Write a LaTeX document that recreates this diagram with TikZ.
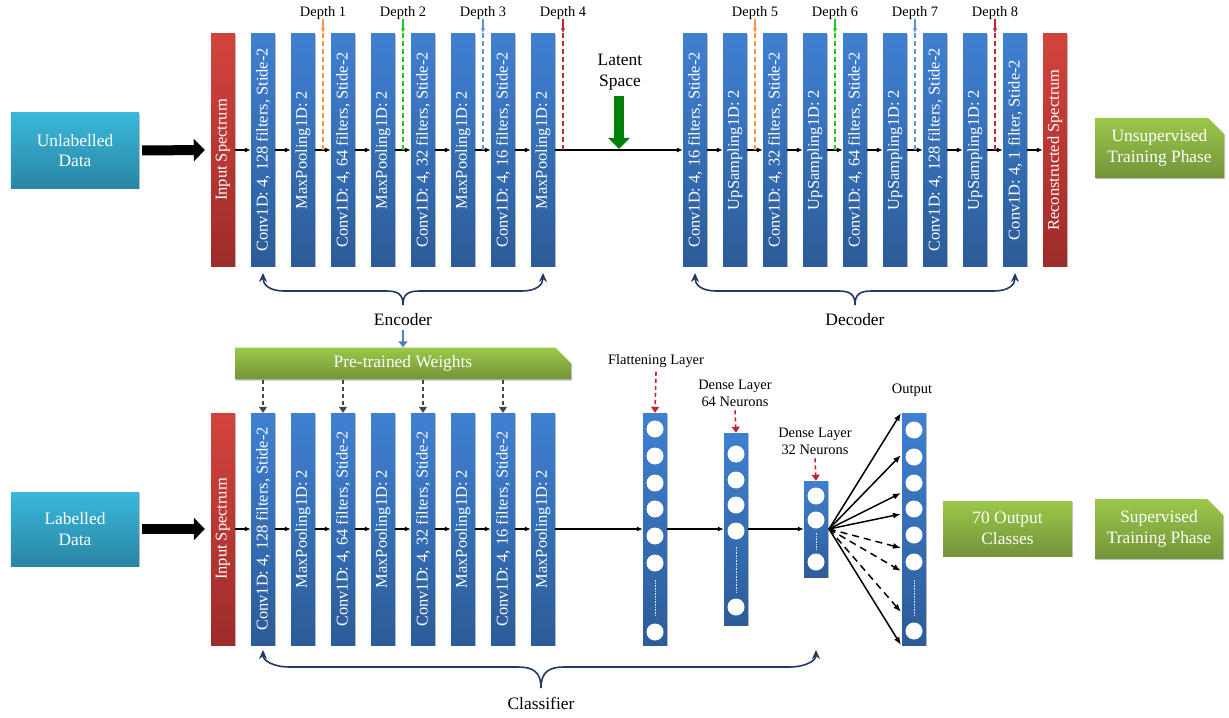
\documentclass[tikz,border=0pt]{standalone}
\usepackage{fontspec}
\setmainfont{Liberation Serif}
\usetikzlibrary{arrows.meta,shapes.misc,shadows}
\definecolor{barTop}{HTML}{3F80D2}
\definecolor{barBot}{HTML}{2C5C98}
\definecolor{redTop}{HTML}{D3433D}
\definecolor{redBot}{HTML}{9E2C2A}
\definecolor{cyTop}{HTML}{39B8DB}
\definecolor{cyBot}{HTML}{2986A3}
\definecolor{grTop}{HTML}{9BC84A}
\definecolor{grBot}{HTML}{74933A}
\definecolor{navy}{HTML}{1F3B63}
\definecolor{dOrange}{HTML}{F79646}
\definecolor{dGreen}{HTML}{22C822}
\definecolor{dBlue}{HTML}{5B93D6}
\definecolor{dRed}{HTML}{C0272D}
\definecolor{olive}{HTML}{4D4633}
\definecolor{latgreen}{HTML}{00800A}
\definecolor{arrblue}{HTML}{4F81BD}
\tikzset{
  shad/.style={drop shadow={shadow xshift=1.2bp, shadow yshift=-1.2bp, fill=black, opacity=0.22}},
  bar/.style={rectangle, inner sep=0, minimum width=24bp, minimum height=232bp, top color=barTop, bottom color=barBot, draw=none, shad},
  rbar/.style={bar, top color=redTop, bottom color=redBot},
  nbar/.style={rectangle, inner sep=0, minimum width=24bp, top color=barTop, bottom color=barBot, draw=none, shad},
  bartxt/.style={rotate=90, text=white, font=\fontsize{16.5}{19}\selectfont, inner sep=0},
  lbl/.style={font=\fontsize{17.5}{20.5}\selectfont, text=black, inner sep=0, align=center},
  sm/.style={font=\fontsize{14.5}{17}\selectfont, text=black, inner sep=0, align=center},
  cybox/.style={rectangle, inner sep=0, minimum width=128bp, top color=cyTop, bottom color=cyBot, text=white, align=center, font=\fontsize{17.5}{21}\selectfont, shad},
  grbox/.style={rectangle, inner sep=0, top color=grTop, bottom color=grBot, text=white, align=center, font=\fontsize{17.5}{21}\selectfont, shad},
  snip/.style={chamfered rectangle, chamfered rectangle corners=north east, chamfered rectangle xsep=8bp, chamfered rectangle ysep=8bp},
  flow/.style={-{Latex[length=6bp,width=5bp]}, line width=1.3bp, black},
  fan/.style={-{Latex[length=8bp,width=6bp]}, line width=1.5bp, black},
  bigarrow/.style={line width=10bp, -{Triangle[width=22bp,length=11bp]}},
  neuron/.style={circle, fill=white, inner sep=0, minimum size=17bp},
  dots/.style={white!80!barTop, line width=0.9bp, dash pattern=on 0.6bp off 1bp},
  brace/.style={navy, line width=1.6bp, -{Stealth[length=9bp,width=8bp]}},
  reddash/.style={dRed, line width=1.6bp, dash pattern=on 4bp off 3bp, -{Triangle[length=6bp,width=8bp]}},
  olivedash/.style={olive, line width=1.6bp, dash pattern=on 4bp off 3bp, -{Triangle[length=6bp,width=8bp]}},
}
\begin{document}
\begin{tikzpicture}[x=1bp,y=-1bp]
\useasboundingbox (0,0) rectangle (1229,718);

% ---------------- top row (autoencoder) ----------------
\node[cybox, minimum height=75bp] (unl) at (75,150.5) {Unlabelled\\Data};
\node[rbar] (in1) at (223,150) {};
\node[bartxt] (in1-t) at (in1) {Input Spectrum};
\draw[bigarrow] ([xshift=3bp]unl.east) -- ([xshift=-6bp]in1.west);

\foreach \n/\x/\t in {e1/263/{Conv1D: 4, 128 filters, Stide-2}, e2/303/{MaxPooling1D: 2}, e3/343/{Conv1D: 4, 64 filters, Stide-2}, e4/383/{MaxPooling1D: 2}, e5/423/{Conv1D: 4, 32 filters, Stide-2}, e6/463/{MaxPooling1D: 2}, e7/503/{Conv1D: 4, 16 filters, Stide-2}, e8/543/{MaxPooling1D: 2}, d1/695/{Conv1D: 4, 16 filters, Stide-2}, d2/735/{UpSampling1D: 2}, d3/775/{Conv1D: 4, 32 filters, Stide-2}, d4/815/{UpSampling1D: 2}, d5/855/{Conv1D: 4, 64 filters, Stide-2}, d6/895/{UpSampling1D: 2}, d7/935/{Conv1D: 4, 128 filters, Stide-2}, d8/975/{UpSampling1D: 2}, d9/1015/{Conv1D: 4, 1 filter, Stide-2}}{
  \node[bar] (\n) at (\x,150) {};
  \node[bartxt] (\n-t) at (\n) {\t};
}
\node[rbar] (rec) at (1055,150) {};
\node[bartxt] (rec-t) at (rec) {Reconstructed Spectrum};

\foreach \a/\b in {in1/e1,e1/e2,e2/e3,e3/e4,e4/e5,e5/e6,e6/e7,e7/e8,e8/d1,d1/d2,d2/d3,d3/d4,d4/d5,d5/d6,d6/d7,d7/d8,d8/d9,d9/rec}
  \draw[flow] (\a) -- (\b);

% depth markers
\foreach \k/\x/\c in {1/323/dOrange, 2/403/dGreen, 3/483/dBlue, 4/563/dRed, 5/755/dOrange, 6/835/dGreen, 7/915/dBlue, 8/995/dRed}{
  \node[sm, anchor=base] (dl\k) at (\x,16.5) {Depth \k};
  \coordinate (dt\k) at (\x,33);
  \coordinate (db\k) at (\x,150);
  \draw[color=\c, line width=1.3bp, -{Latex[length=4.5bp,width=4.5bp]}] (\x,19) -- (dt\k);
  \draw[color=\c, line width=1.3bp, dash pattern=on 5bp off 3bp] (dt\k) -- (db\k);
}

% latent space
\node[lbl] (lat) at (620,72) {Latent\\Space};
\coordinate (latA) at (619,96);
\coordinate (latB) at (619,149);
\draw[latgreen, line width=10bp, -{Triangle[width=21bp,length=11bp]}] (latA) -- (latB);

% unsupervised phase box
\node[grbox, snip, minimum width=129bp, minimum height=60bp] (uns) at (1159.5,148) {Unsupervised\\Training Phase};

% encoder / decoder braces
\coordinate (encL) at (263,273); \coordinate (encR) at (543,273); \coordinate (encC) at (403,305);
\draw[brace] (encC) .. controls (403,294) and (398,291) .. (386,291) -- (284,291) .. controls (270,291) and (263,285) .. (encL);
\draw[brace] (encC) .. controls (403,294) and (408,291) .. (420,291) -- (522,291) .. controls (536,291) and (543,285) .. (encR);
\node[lbl] (enc) at (403,320) {Encoder};

\coordinate (decL) at (695,273); \coordinate (decR) at (1015,273); \coordinate (decC) at (855,305);
\draw[brace] (decC) .. controls (855,294) and (850,291) .. (838,291) -- (716,291) .. controls (702,291) and (695,285) .. (decL);
\draw[brace] (decC) .. controls (855,294) and (860,291) .. (872,291) -- (994,291) .. controls (1008,291) and (1015,285) .. (decR);
\node[lbl] (dec) at (855,320) {Decoder};

% pre-trained weights
\node[grbox, snip, minimum width=336bp, minimum height=31bp] (ptw) at (403,363.5) {Pre-trained Weights};
\draw[arrblue, line width=1.6bp, -{Triangle[length=6bp,width=9bp]}] (enc.south) ++(0,4) -- (ptw.north);

% ---------------- bottom row (classifier) ----------------
\node[cybox, minimum height=74bp] (lab) at (75,529) {Labelled\\Data};
\node[rbar] (in2) at (223,529) {};
\node[bartxt] (in2-t) at (in2) {Input Spectrum};
\draw[bigarrow] ([xshift=3bp]lab.east) -- ([xshift=-6bp]in2.west);

\foreach \n/\x/\t in {c1/263/{Conv1D: 4, 128 filters, Stide-2}, c2/303/{MaxPooling1D: 2}, c3/343/{Conv1D: 4, 64 filters, Stide-2}, c4/383/{MaxPooling1D: 2}, c5/423/{Conv1D: 4, 32 filters, Stide-2}, c6/463/{MaxPooling1D: 2}, c7/503/{Conv1D: 4, 16 filters, Stide-2}, c8/543/{MaxPooling1D: 2}}{
  \node[bar] (\n) at (\x,529) {};
  \node[bartxt] (\n-t) at (\n) {\t};
}
\foreach \n in {c1,c3,c5,c7}
  \draw[olivedash] (ptw.south -| \n.north) -- (\n.north);

% dense stacks
\node[nbar, minimum height=232bp] (fl) at (655,529) {};
\node[nbar, minimum height=192bp] (d64) at (736,529) {};
\node[nbar, minimum height=96bp] (d32) at (816,529) {};
\node[nbar, minimum height=232bp] (out) at (914,529) {};

\foreach \a/\b in {in2/c1,c1/c2,c2/c3,c3/c4,c4/c5,c5/c6,c6/c7,c7/c8,c8/fl,fl/d64,d64/d32}
  \draw[flow] (\a) -- (\b);

\foreach \i/\y in {1/429,2/456,3/483,4/509,5/536,6/563,7/632}
  \node[neuron] (f\i) at (655,\y) {};
\draw[dots] (f6.south) ++(0,8) coordinate (fdA) -- (655,615) coordinate (fdB);
\foreach \i/\y in {1/454,2/480,3/505,4/531,5/607}
  \node[neuron] (g\i) at (736,\y) {};
\draw[dots] (g4.south) ++(0,7) coordinate (gdA) -- (736,593) coordinate (gdB);
\foreach \i/\y in {1/496,2/520,3/562}
  \node[neuron] (h\i) at (816,\y) {};
\draw[dots] (h2.south) ++(0,4) coordinate (hdA) -- (816,549) coordinate (hdB);
\foreach \i/\y in {1/430,2/457,3/483,4/509,5/535,6/562,7/631}
  \node[neuron] (o\i) at (914,\y) {};
\draw[dots] (o6.south) ++(0,9) coordinate (odA) -- (914,615) coordinate (odB);

% labels
\node[sm] (flL) at (656,361) {Flattening Layer};
\draw[reddash] (flL.south) ++(0,4) -- (fl.north);
\node[sm] (d64L) at (735,393) {Dense Layer\\64 Neurons};
\draw[reddash] (d64L.south) ++(0,4) -- (d64.north);
\node[sm] (d32L) at (815,441) {Dense Layer\\32 Neurons};
\draw[reddash] (d32L.south) ++(0,4) -- (d32.north);
\node[sm] (outL) at (912,390) {Output};

% fan of arrows
\coordinate (fo) at (829,529);
\foreach \y in {413,455,493,514,645}{
  \coordinate (ft\y) at (901,\y);
  \draw[fan] (fo) -- (ft\y);
}
\foreach \y in {548,571,612}{
  \coordinate (ft\y) at (901,\y);
  \draw[fan, dash pattern=on 7bp off 5bp] (fo) -- (ft\y);
}

\node[grbox, minimum width=129bp, minimum height=55bp] (cls) at (1007.5,528.5) {70 Output\\Classes};
\node[grbox, snip, minimum width=128bp, minimum height=60bp] (sup) at (1159,529) {Supervised\\Training Phase};

% classifier brace
\coordinate (clL) at (263,650); \coordinate (clR) at (816,650); \coordinate (clC) at (541,688);
\draw[brace] (clC) .. controls (541,672) and (533,667) .. (518,667) -- (290,667) .. controls (272,667) and (263,660) .. (clL);
\draw[brace] (clC) .. controls (541,672) and (549,667) .. (564,667) -- (789,667) .. controls (807,667) and (816,660) .. (clR);
\node[lbl] (clsL) at (541,703) {Classifier};
\end{tikzpicture}
\end{document}
